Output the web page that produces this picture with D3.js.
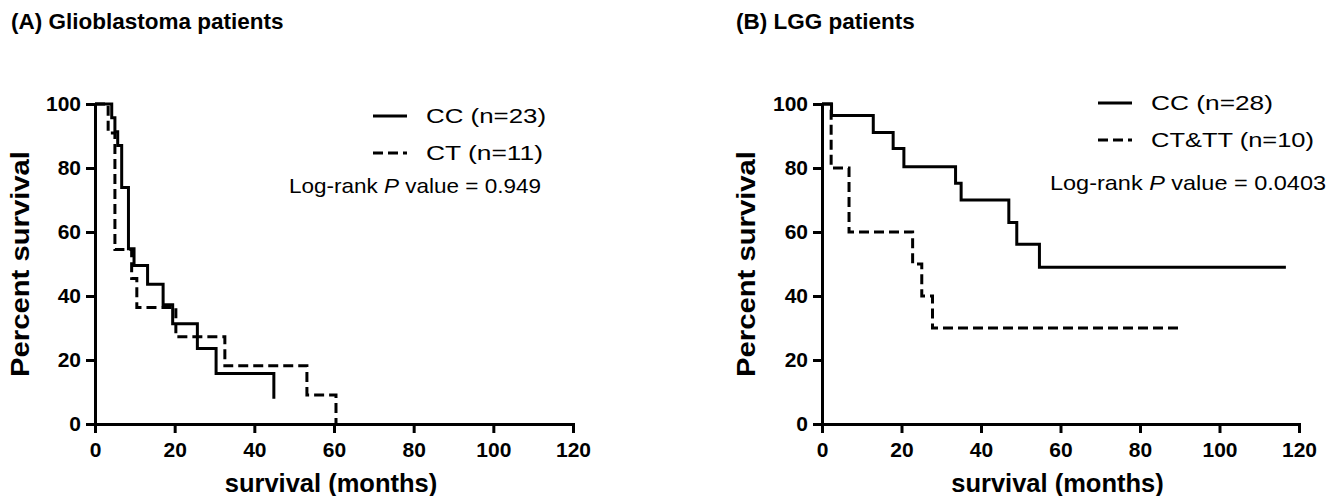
<!DOCTYPE html>
<html>
<head>
<meta charset="utf-8">
<script src="https://cdn.jsdelivr.net/npm/d3@7"></script>
<style>
  body { margin: 0; background: #fff; }
  svg { display: block; }
</style>
</head>
<body>
<div id="chart"></div>
<script>
// (A) glioblastoma, Kaplan-Meier steps (months, % surviving)
const gbmCCTimes = [0, 4.2, 5.0, 5.7, 6.7, 8.4, 9.8, 13.2, 17.1, 19.5, 25.7, 30.4, 44.9];
const gbmCCSurv  = [100, 95.7, 91.3, 87.0, 73.9, 54.8, 49.5, 43.7, 37.3, 31.3, 23.6, 15.8, 7.9];
const gbmCTTimes = [0, 3.3, 5.0, 9.2, 10.5, 20.3, 32.6, 53.2, 60.5];
const gbmCTSurv  = [100, 90.9, 54.5, 45.5, 36.4, 27.3, 18.2, 9.1, 0];

// (B) LGG
const lggCCTimes = [0, 2.4, 12.9, 17.9, 20.6, 33.6, 35.0, 47.0, 49.0, 54.7, 116.7];
const lggCCSurv  = [100, 96.4, 91.1, 86.1, 80.4, 75.2, 70.0, 63.0, 56.2, 49.0, 49.0];
const lggCTTimes = [0, 2.3, 6.8, 22.8, 25.1, 27.8, 90.8];
const lggCTSurv  = [100, 80, 60, 50, 40, 30, 30];

const xTicks = [0, 20, 40, 60, 80, 100, 120];
const yTicks = [0, 20, 40, 60, 80, 100];

const font = '"Liberation Sans", Arial, sans-serif';
const dash = '10,5';

const svg = d3.select('#chart').append('svg')
  .attr('width', 1334)
  .attr('height', 496)
  .style('font-family', font);

function drawPanel(p) {
  const x = d3.scaleLinear().domain([0, 120]).range([p.x0, p.x1]);
  const y = d3.scaleLinear().domain([0, 100]).range([424, 104]);
  const g = svg.append('g');

  // title
  g.append('text')
    .attr('x', p.titleX)
    .attr('y', 29)
    .attr('font-size', 22.5)
    .attr('font-weight', 'bold')
    .text(p.title);

  // axes
  const xAxis = d3.axisBottom(x).tickValues(xTicks).tickSize(9).tickSizeOuter(0).tickPadding(9);
  const yAxis = d3.axisLeft(y).tickValues(yTicks).tickSize(9).tickSizeOuter(0).tickPadding(5);

  g.append('g').attr('transform', `translate(0,${y(0)})`).call(xAxis);
  g.append('g').attr('transform', `translate(${x(0)},0)`).call(yAxis);

  g.selectAll('.domain')
    .attr('stroke', '#000')
    .attr('stroke-width', 3)
    .attr('stroke-linecap', 'square');
  g.selectAll('.tick line')
    .attr('stroke', '#000')
    .attr('stroke-width', 3);
  g.selectAll('.tick text')
    .attr('fill', '#000')
    .attr('font-family', font)
    .attr('font-size', 21)
    .attr('font-weight', 'bold');

  // axis titles
  g.append('text')
    .attr('x', (p.x0 + p.x1) / 2 - 3)
    .attr('y', 492)
    .attr('text-anchor', 'middle')
    .attr('font-size', 25.5)
    .attr('font-weight', 'bold')
    .text('survival (months)');

  g.append('text')
    .attr('transform', `translate(${p.yTitleX},264) rotate(-90)`)
    .attr('text-anchor', 'middle')
    .attr('font-size', 25.5)
    .attr('font-weight', 'bold')
    .attr('textLength', 226)
    .attr('lengthAdjust', 'spacingAndGlyphs')
    .text('Percent survival');

  // survival curves
  const line = d3.line()
    .x(d => x(d[0]))
    .y(d => y(d[1]))
    .curve(d3.curveStepAfter);

  p.series.forEach(s => {
    g.append('path')
      .datum(d3.zip(s.times, s.surv))
      .attr('d', line)
      .attr('fill', 'none')
      .attr('stroke', '#000')
      .attr('stroke-width', 3)
      .attr('stroke-dasharray', s.dashed ? dash : null);
  });

  // legend
  p.series.forEach((s, i) => {
    const ly = p.legendY[i];
    g.append('line')
      .attr('x1', p.legendX)
      .attr('x2', p.legendX + 34)
      .attr('y1', ly)
      .attr('y2', ly)
      .attr('stroke', '#000')
      .attr('stroke-width', 3)
      .attr('stroke-dasharray', s.dashed ? dash : null);
    g.append('text')
      .attr('x', p.legendX + 53)
      .attr('y', ly + 7)
      .attr('font-size', 21)
      .attr('textLength', s.labelLen)
      .attr('lengthAdjust', 'spacingAndGlyphs')
      .text(s.label);
  });

  const lr = g.append('text')
    .attr('x', p.pvalX)
    .attr('y', p.pvalY)
    .attr('font-size', 21)
    .attr('textLength', p.pvalLen)
    .attr('lengthAdjust', 'spacingAndGlyphs');
  lr.append('tspan').text('Log-rank ');
  lr.append('tspan').attr('font-style', 'italic').text('P');
  lr.append('tspan').text(' value = ' + p.pval);
}

drawPanel({
  title: '(A) Glioblastoma patients',
  titleX: 11,
  x0: 95, x1: 573,
  yTitleX: 29,
  legendX: 373,
  legendY: [116, 153],
  pvalX: 289, pvalY: 193, pvalLen: 252,
  pval: '0.949',
  series: [
    { label: 'CC (n=23)', labelLen: 120, times: gbmCCTimes, surv: gbmCCSurv, dashed: false },
    { label: 'CT (n=11)', labelLen: 117, times: gbmCTTimes, surv: gbmCTSurv, dashed: true }
  ]
});

drawPanel({
  title: '(B) LGG patients',
  titleX: 736,
  x0: 822, x1: 1299,
  yTitleX: 755,
  legendX: 1098,
  legendY: [103, 140],
  pvalX: 1050, pvalY: 190, pvalLen: 276,
  pval: '0.0403',
  series: [
    { label: 'CC (n=28)', labelLen: 122, times: lggCCTimes, surv: lggCCSurv, dashed: false },
    { label: 'CT&TT (n=10)', labelLen: 163, times: lggCTTimes, surv: lggCTSurv, dashed: true }
  ]
});
</script>
</body>
</html>
